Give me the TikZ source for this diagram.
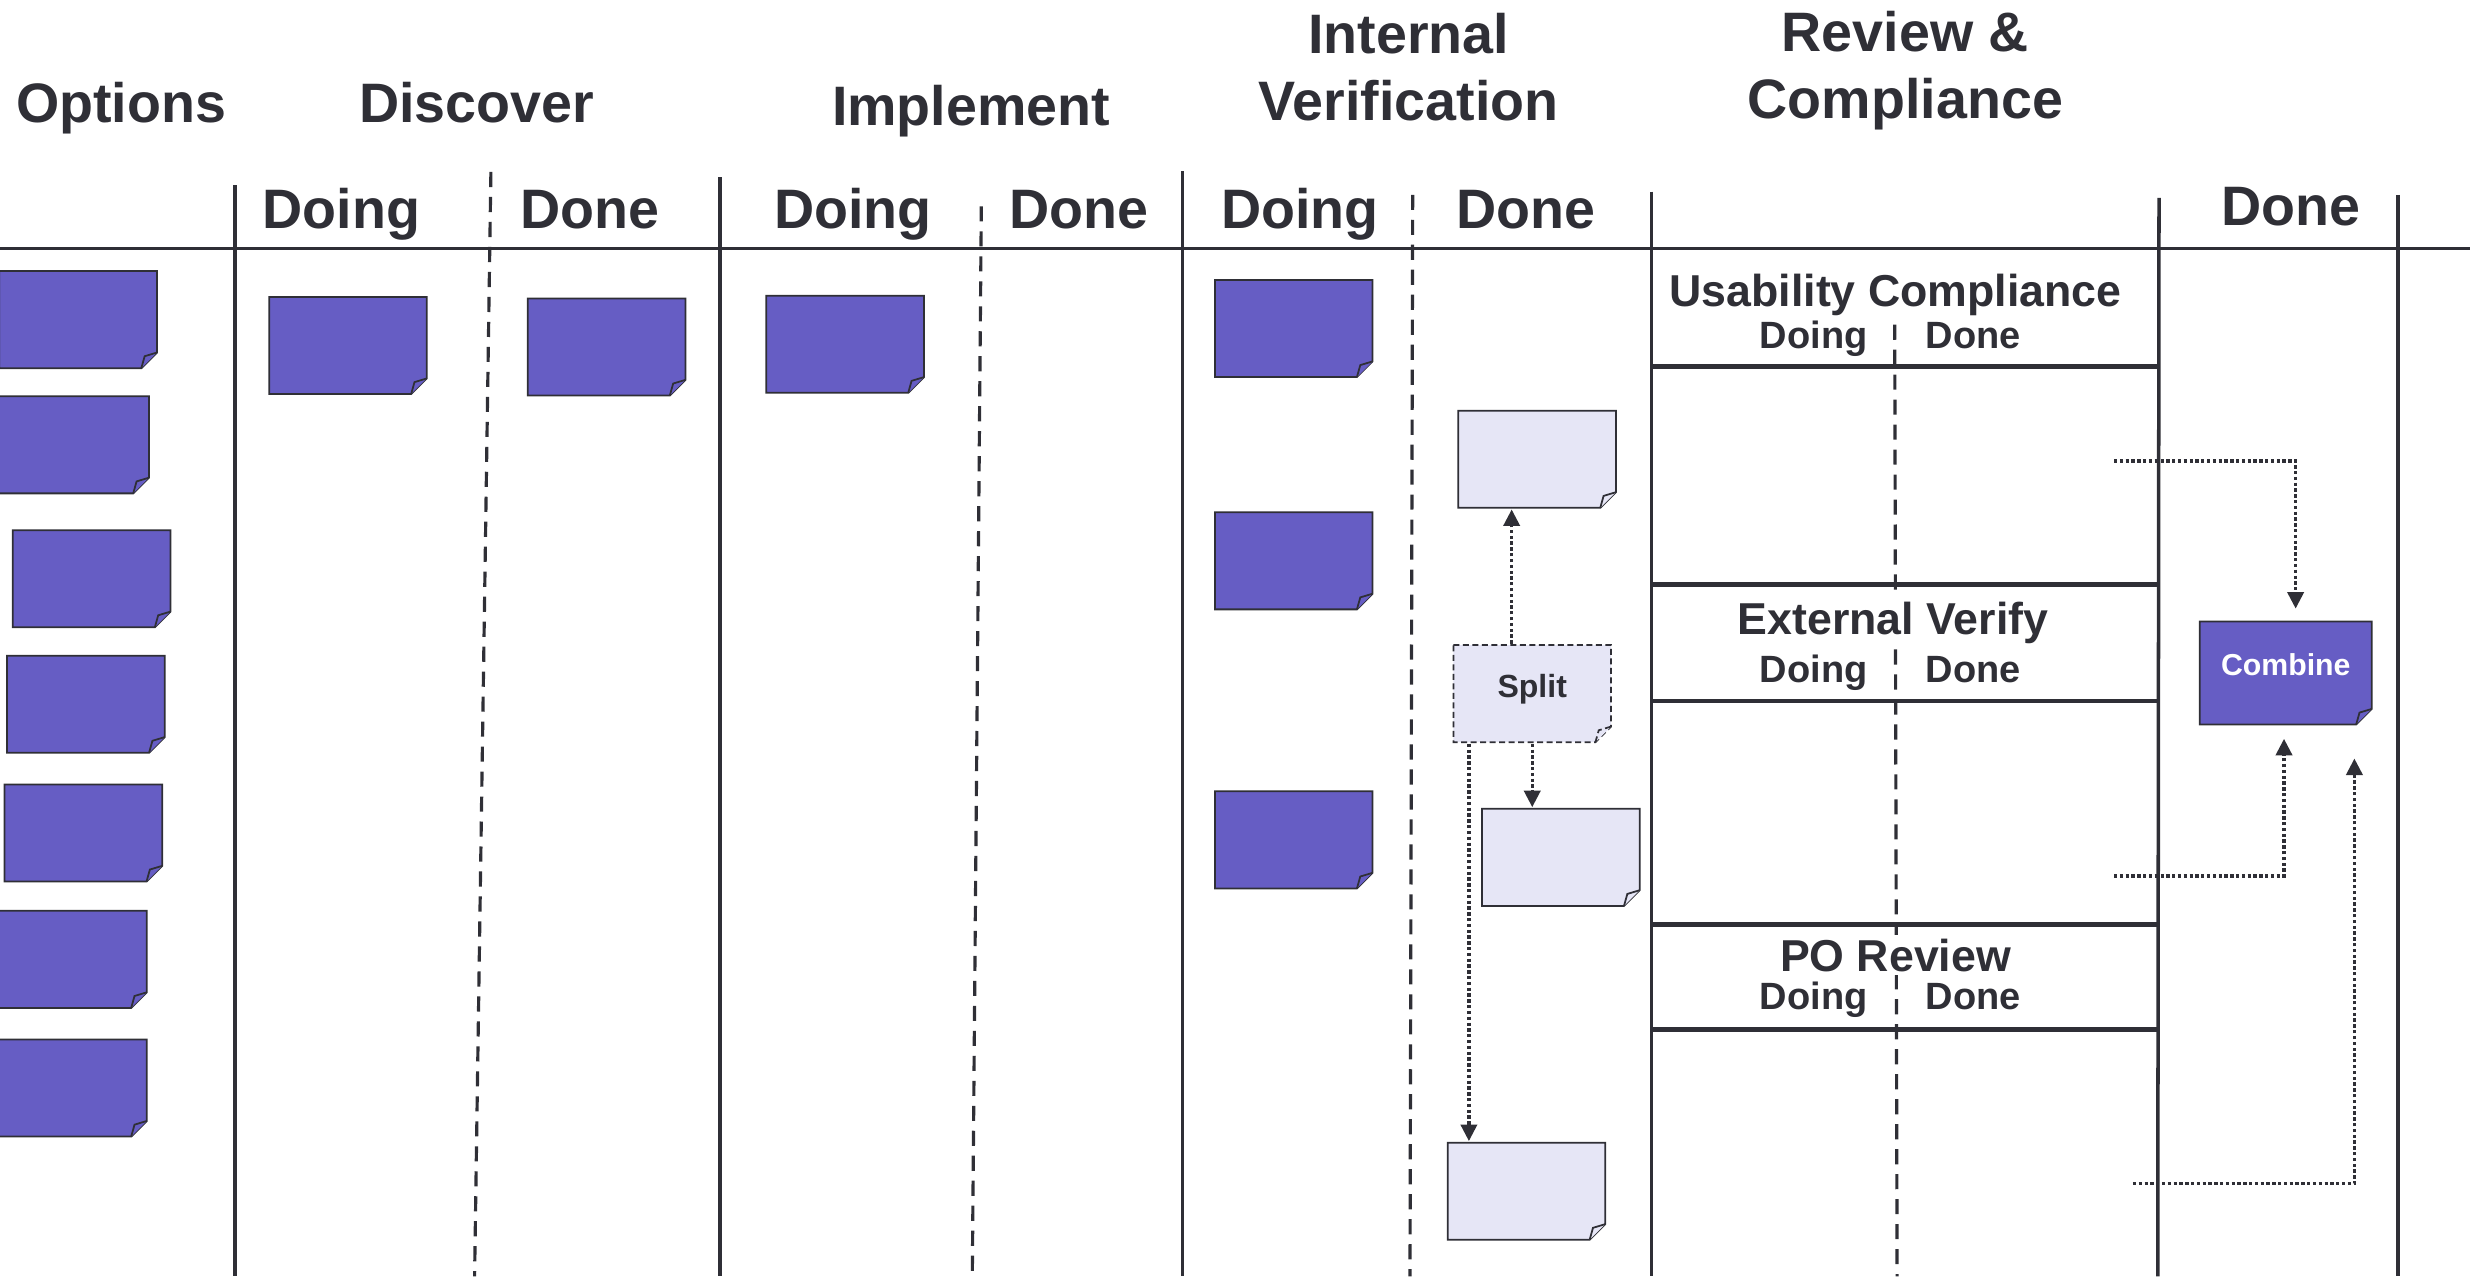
\documentclass[tikz,border=0pt]{standalone}
\usepackage{fontspec}
\setmainfont{Liberation Sans}
\usetikzlibrary{arrows.meta}

\definecolor{ink}{RGB}{47,47,54}
\definecolor{cardfill}{RGB}{102,93,196}
\definecolor{palefill}{RGB}{230,230,246}

\begin{document}
\begin{tikzpicture}[x=0.45pt,y=-0.45pt,>={Triangle[length=4.7pt,width=4.6pt]},
  every node/.style={text=ink},
  lane/.style={draw=ink,line width=1pt},
  sublane/.style={draw=ink,line width=0.9pt,dash pattern=on 4.3pt off 2.8pt},
  rowline/.style={draw=ink,line width=1.4pt},
  head/.style={anchor=base,font=\bfseries\fontsize{15.8}{19}\selectfont},
  subhead/.style={anchor=base,fill=white,inner sep=1pt,font=\bfseries\fontsize{12.7}{15}\selectfont},
  minihead/.style={anchor=base,font=\bfseries\fontsize{10.8}{13}\selectfont},
  card edge/.style={},
  card/.style={rectangle,inner sep=0pt,minimum width=45.3pt,minimum height=28.1pt,
    fill=white,
    path picture={
      \filldraw[draw=ink,fill=#1,line width=0.5pt,card edge]
        ([shift={(0.25pt,-0.25pt)}]path picture bounding box.north west)
        -- ([shift={(-0.25pt,-0.25pt)}]path picture bounding box.north east)
        -- ([shift={(-0.25pt,4.7pt)}]path picture bounding box.south east)
        -- ([shift={(-4.7pt,0.25pt)}]path picture bounding box.south east)
        -- ([shift={(0.25pt,0.25pt)}]path picture bounding box.south west) -- cycle;
      \draw[draw=ink,fill=#1,line width=0.5pt,card edge]
        ([shift={(-4.7pt,0.25pt)}]path picture bounding box.south east) -- ++(0.95pt,3.4pt)
        -- ([shift={(-0.25pt,4.7pt)}]path picture bounding box.south east);}},
  card/.default=cardfill,
  flow/.style={->,draw=ink,line width=0.95pt,dash pattern=on 0.95pt off 0.7pt}]

  \useasboundingbox (0,0) rectangle (1568,806);

  % board lines
  \draw[lane] (0,157) -- (1560,157);
  \draw[lane] (148.4,117) -- (148.4,806);
  \draw[lane] (454.6,112) -- (454.6,806);
  \draw[lane] (746.6,108) -- (746.6,806);
  \draw[lane] (1043,121) -- (1043,806);
  \draw[lane] (1363.4,125) -- (1362.6,806);
  \draw[lane] (1514.3,123) -- (1514.3,806);
  \draw[sublane] (310,108.6) -- (299.7,806);
  \draw[sublane] (619.7,130.3) -- (614,806);
  \draw[sublane] (892.1,123) -- (890.4,806);
  \draw[sublane] (1196.5,205) -- (1198,806);
  \foreach \y in {231.4,369.1,442.7,583.8,650}
    \draw[rowline] (1043,\y) -- (1363.4,\y);

  % column heads
  \node[head] (options) at (76.5,77.2) {Options};
  \node[head] (discover) at (301,77.2) {Discover};
  \node[head] (implement) at (613.2,79) {Implement};
  \node[head] (internal) at (889.6,33.5) {Internal};
  \node[head] (verification) at (889.6,75.9) {Verification};
  \node[head] (review) at (1203.2,32.7) {Review \&};
  \node[head] (compliance) at (1203.2,75.1) {Compliance};
  \node[head] (disc doing) at (215.5,144) {Doing};
  \node[head] (disc done) at (372.5,144) {Done};
  \node[head] (impl doing) at (538.7,144) {Doing};
  \node[head] (impl done) at (681.1,144) {Done};
  \node[head] (iv doing) at (820.8,144) {Doing};
  \node[head] (iv done) at (963.5,144) {Done};
  \node[head] (final done) at (1446.6,142.7) {Done};

  % review rows
  \node[subhead] (usab) at (1197,193.7) {Usability Compliance};
  \node[minihead] (usab doing) at (1145.3,219.9) {Doing};
  \node[minihead] (usab done) at (1246.1,219.9) {Done};
  \node[subhead] (ext) at (1195.4,400.5) {External Verify};
  \node[minihead] (ext doing) at (1145.3,430.7) {Doing};
  \node[minihead] (ext done) at (1246.1,430.7) {Done};
  \node[subhead] (po) at (1197,613.4) {PO Review};
  \node[minihead] (po doing) at (1145.3,637.5) {Doing};
  \node[minihead] (po done) at (1246.1,637.5) {Done};

  % cards
  \node[card] (opt1) at (49.35,201.85) {};
  \node[card] (opt2) at (44.25,280.9) {};
  \node[card] (opt3) at (57.9,365.45) {};
  \node[card] (opt4) at (54.25,444.7) {};
  \node[card] (opt5) at (52.65,526) {};
  \node[card] (opt6) at (42.95,605.85) {};
  \node[card] (opt7) at (42.95,687.1) {};
  \node[card] (disc1) at (219.75,218.2) {};
  \node[card] (disc2) at (383.1,219.1) {};
  \node[card] (impl1) at (533.65,217.4) {};
  \node[card] (iv1) at (817,207.45) {};
  \node[card] (iv2) at (817,354.15) {};
  \node[card] (iv3) at (817,530.4) {};
  \node[card=palefill] (done1) at (970.65,290.05) {};
  \node[card=palefill,card edge/.style={dash pattern=on 1.7pt off 1pt},
    text height=6.6pt,text depth=4.5pt,
    font=\bfseries\fontsize{9.1}{11}\selectfont] (split) at (967.6,438.05) {Split};
  \node[card=palefill] (done2) at (985.65,541.4) {};
  \node[card=palefill] (done3) at (963.95,752.25) {};
  \node[card,minimum width=49.4pt,minimum height=29.8pt,text=white,
    text height=6.3pt,text depth=4.6pt,
    font=\bfseries\fontsize{8.6}{10}\selectfont] (combine) at (1443.45,425) {Combine};

  % flows
  \coordinate (usab out) at (1335,291.1);
  \coordinate (ext out) at (1335,553.2);
  \coordinate (po out) at (1346.9,747.4);

  \draw[flow] ([xshift=-5.85pt]split.north) -- ([xshift=-5.85pt]split.north |- done1.south);
  \draw[flow] (split.south) -- (split.south |- done2.north);
  \draw[flow] ([xshift=-18pt]split.south) -- ([xshift=-18pt]split.south |- done3.north);
  \draw[flow] (usab out) -| ([xshift=2.8pt,yshift=3.2pt]combine.north);
  \draw[flow] (ext out) -| ([xshift=-0.5pt,yshift=-3.6pt]combine.south);
  \draw[flow] (po out) -| ([xshift=19.5pt,yshift=-9.2pt]combine.south);
\end{tikzpicture}
\end{document}
